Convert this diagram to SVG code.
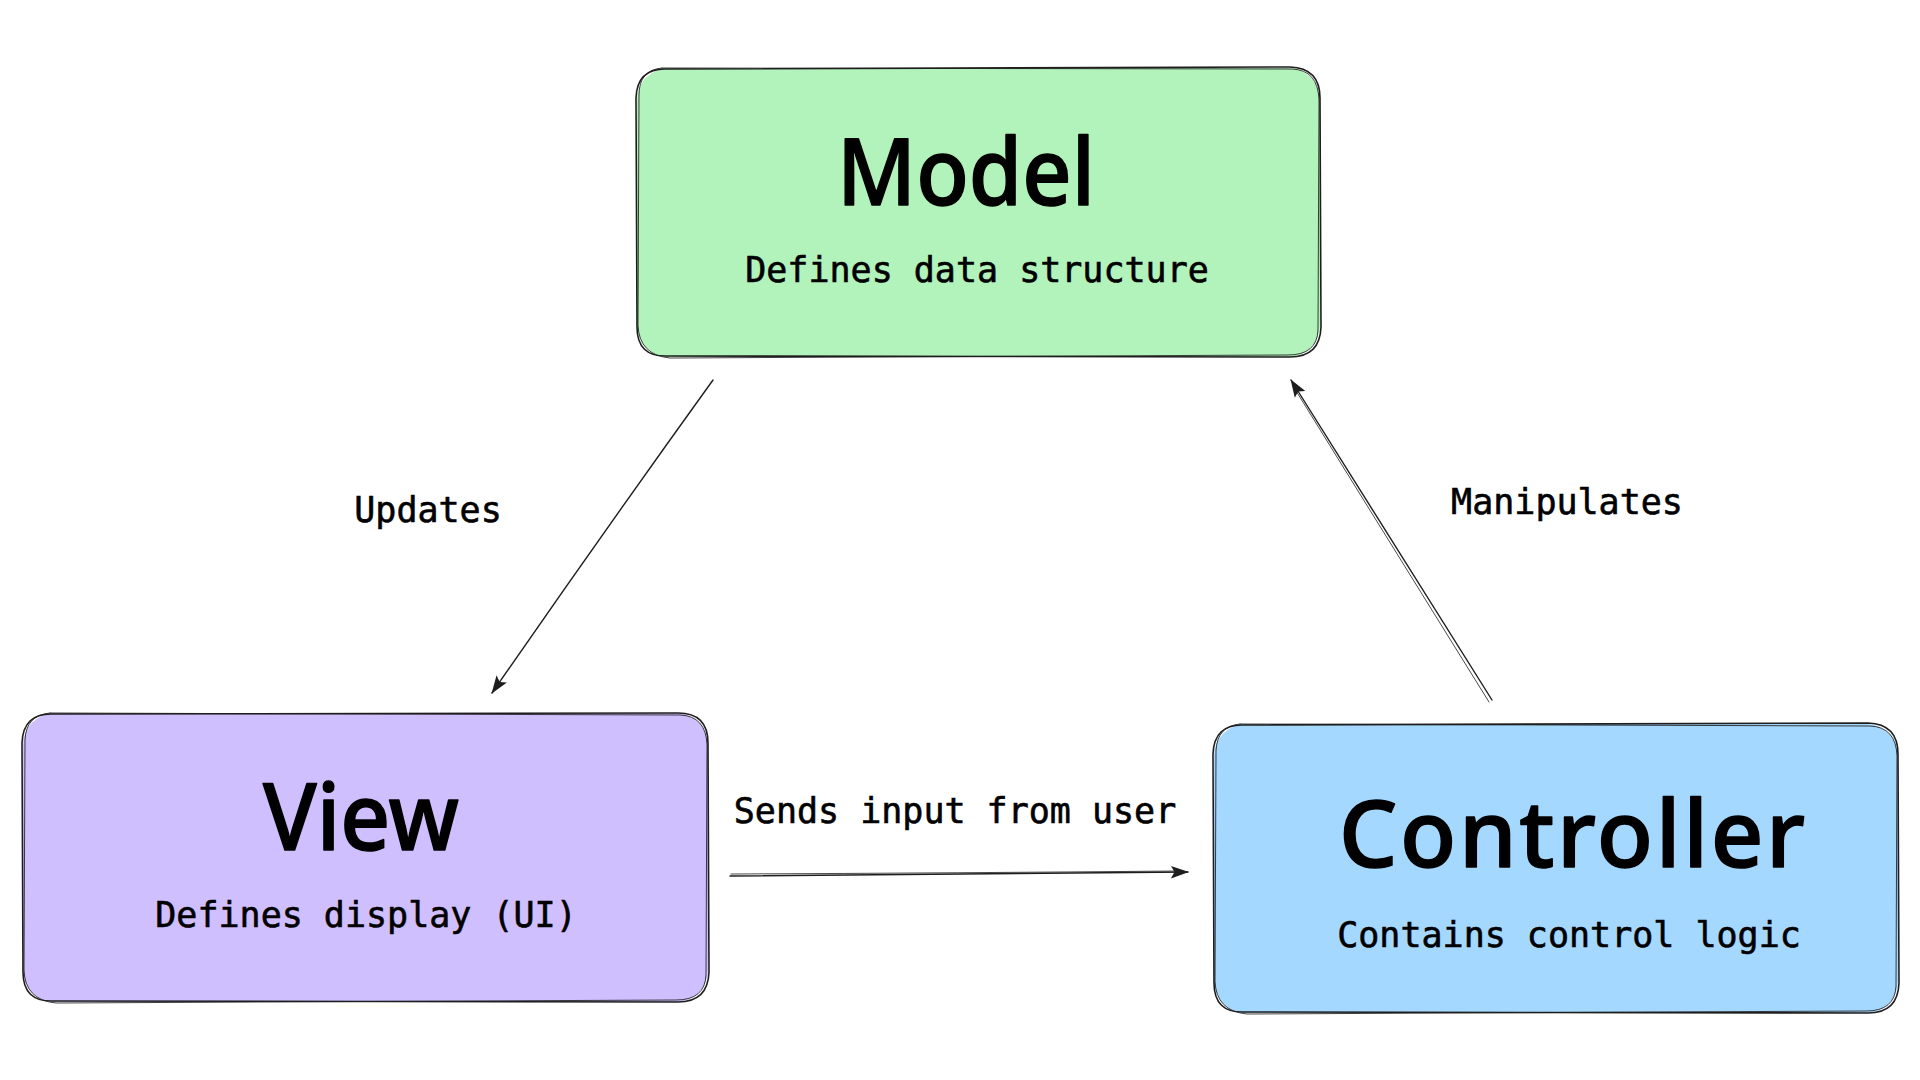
<svg xmlns="http://www.w3.org/2000/svg" width="1920" height="1080" viewBox="0 0 1920 1080">
  <defs>
    <style>
      .bg { fill: #ffffff; }
      .outline { fill: none; stroke: #1e1e1e; stroke-width: 1.6; stroke-linecap: round; stroke-linejoin: round; }
      .outline2 { fill: none; stroke: #1e1e1e; stroke-width: 1; stroke-linecap: round; stroke-linejoin: round; opacity: 0.85; }
      .title { font-family: "Noto Sans", "DejaVu Sans", sans-serif; font-size: 92px; font-weight: 500; fill: #000000; stroke: #000000; stroke-width: 1.5; stroke-linejoin: round; text-anchor: middle; }
      .sub { font-family: "DejaVu Sans Mono", "Liberation Mono", monospace; font-size: 35px; fill: #000000; stroke: #000000; stroke-width: 0.6; text-anchor: middle; }
      .label { font-family: "DejaVu Sans Mono", "Liberation Mono", monospace; font-size: 35px; fill: #000000; stroke: #000000; stroke-width: 0.6; text-anchor: middle; }
      .conn { fill: none; stroke: #1e1e1e; stroke-width: 1.4; stroke-linecap: round; }
      .conn2 { fill: none; stroke: #1e1e1e; stroke-width: 1; stroke-linecap: round; opacity: 0.8; }
    </style>
    <marker id="arrow" viewBox="0 0 20 14" refX="19" refY="7" markerWidth="18" markerHeight="13" markerUnits="userSpaceOnUse" orient="auto">
      <path d="M0 0 L20 7 L0 14 L4 7 Z" fill="#1e1e1e"/>
    </marker>
  </defs>

  <rect class="bg" x="0" y="0" width="1920" height="1080"/>

  <g id="model">
    <rect x="637" y="68" width="683" height="289" rx="32" fill="#b2f2bb"/>
    <path class="outline" d="M667 69 L1290 67 Q1320 68 1320 98 L1321 327 Q1320 357 1290 357 L667 356 Q637 357 637 327 L636 98 Q637 68 667 69 Z"/>
    <path class="outline2" d="M662 68 L1292 69 Q1318 70 1319 100 L1318 330 Q1317 355 1288 355 L670 358 Q639 355 638 325 L639 95 Q639 70 662 68"/>
    <text class="title" x="966" y="205" textLength="258" lengthAdjust="spacingAndGlyphs">Model</text>
    <text class="sub" x="977" y="282">Defines data structure</text>
  </g>

  <g id="view">
    <rect x="23" y="713" width="685" height="289" rx="32" fill="#d0bfff"/>
    <path class="outline" d="M53 714 L678 713 Q708 713 708 743 L709 972 Q708 1002 678 1002 L53 1001 Q23 1002 23 972 L22 743 Q23 713 53 714 Z"/>
    <path class="outline2" d="M50 713 L680 715 Q706 716 707 745 L706 975 Q705 1000 676 1000 L56 1003 Q25 1000 24 970 L25 740 Q26 715 50 713"/>
    <text class="title" x="361" y="850" textLength="196" lengthAdjust="spacingAndGlyphs">View</text>
    <text class="sub" x="366" y="927">Defines display (UI)</text>
  </g>

  <g id="controller">
    <rect x="1214" y="724" width="684" height="289" rx="32" fill="#a5d8ff"/>
    <path class="outline" d="M1244 725 L1868 723 Q1898 724 1898 754 L1899 983 Q1898 1013 1868 1013 L1244 1012 Q1214 1013 1214 983 L1213 754 Q1214 724 1244 725 Z"/>
    <path class="outline2" d="M1240 724 L1870 726 Q1896 727 1897 756 L1896 986 Q1895 1011 1866 1011 L1247 1014 Q1216 1011 1215 981 L1216 751 Q1217 726 1240 724"/>
    <text class="title" x="1572" y="867" textLength="466">Controller</text>
    <text class="sub" x="1569" y="947">Contains control logic</text>
  </g>

  <g id="connectors">
    <g id="edge-updates">
      <path class="conn" d="M713 380 Q600 537 492 693" marker-end="url(#arrow)"/>
      <text class="label" x="428" y="522">Updates</text>
    </g>
    <g id="edge-manipulates">
      <path class="conn" d="M1492 700 Q1392 540 1291 380" marker-end="url(#arrow)"/>
      <path class="conn2" d="M1489 702 Q1389 541 1293 386"/>
      <text class="label" x="1567" y="514">Manipulates</text>
    </g>
    <g id="edge-sends">
      <path class="conn" d="M730 876 Q960 874 1188 872" marker-end="url(#arrow)"/>
      <path class="conn2" d="M731 874 Q960 873 1180 871"/>
      <text class="label" x="955" y="823">Sends input from user</text>
    </g>
  </g>
</svg>
